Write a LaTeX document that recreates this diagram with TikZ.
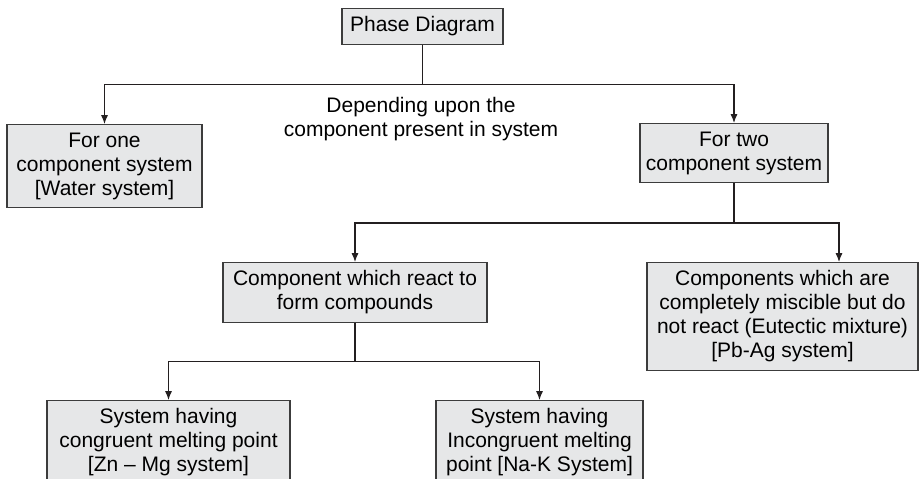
\documentclass[tikz,border=0pt]{standalone}
\usepackage{fontspec}
\setmainfont{Liberation Sans}
\usepackage{tikz}
\usetikzlibrary{positioning,calc,arrows.meta}
\definecolor{boxfill}{RGB}{230,231,232}
\definecolor{boxline}{RGB}{60,60,60}
\definecolor{wire}{RGB}{35,31,32}

\begin{document}
\begin{tikzpicture}[x=0.5pt, y=0.5pt, ->, >={Latex[length=4.5pt,width=3.6pt]},
    line width=0.6pt, draw=wire,
    every node/.append style={font=\fontsize{10.5}{12}\selectfont, align=center},
    box/.style={draw=boxline, fill=boxfill, anchor=north,
      inner xsep=0pt, inner ysep=4pt}]
    \useasboundingbox (0,0) rectangle (921,-478);
    \clip (0,0) rectangle (921,-478);
    \node (phase) [box, minimum width=80.5pt] at (422.5,-8) {Phase Diagram};
    \node (one) [box, minimum width=97.5pt] at (104.5,-124) {For one\\component system\\{[Water system]}};
    \node (two) [box, minimum width=94pt] at (734,-123) {For two\\component system};
    \node (depend) at (421,-119) {Depending upon the\\component present in system};
    \node (react) [box, minimum width=132pt] at (355,-262) {Component which react to\\form compounds};
    \node (miscible) [box, minimum width=135.5pt] at (782.5,-262)
      {Components which are\\completely miscible but do\\not react (Eutectic mixture)\\{[Pb-Ag system]}};
    \node (congruent) [box, minimum width=121.5pt] at (168.5,-400)
      {System having\\congruent melting point\\{[Zn -- Mg system]}};
    \node (incongruent) [box, minimum width=103.5pt] at (539.5,-400)
      {System having\\Incongruent melting\\point [Na-K System]};
    \foreach \c in {one,two}
      \draw (phase.south) -- ++(0,-40) -| (\c.north);
    \draw (two.south) -- ++(0,-40) -| (react.north);
    \draw (two.south) -- ++(0,-40) -| ([xshift=28.25pt]miscible.north);
    \foreach \c in {congruent,incongruent}
      \draw (react.south) -- ++(0,-39) -| (\c.north);
\end{tikzpicture}
\end{document}
